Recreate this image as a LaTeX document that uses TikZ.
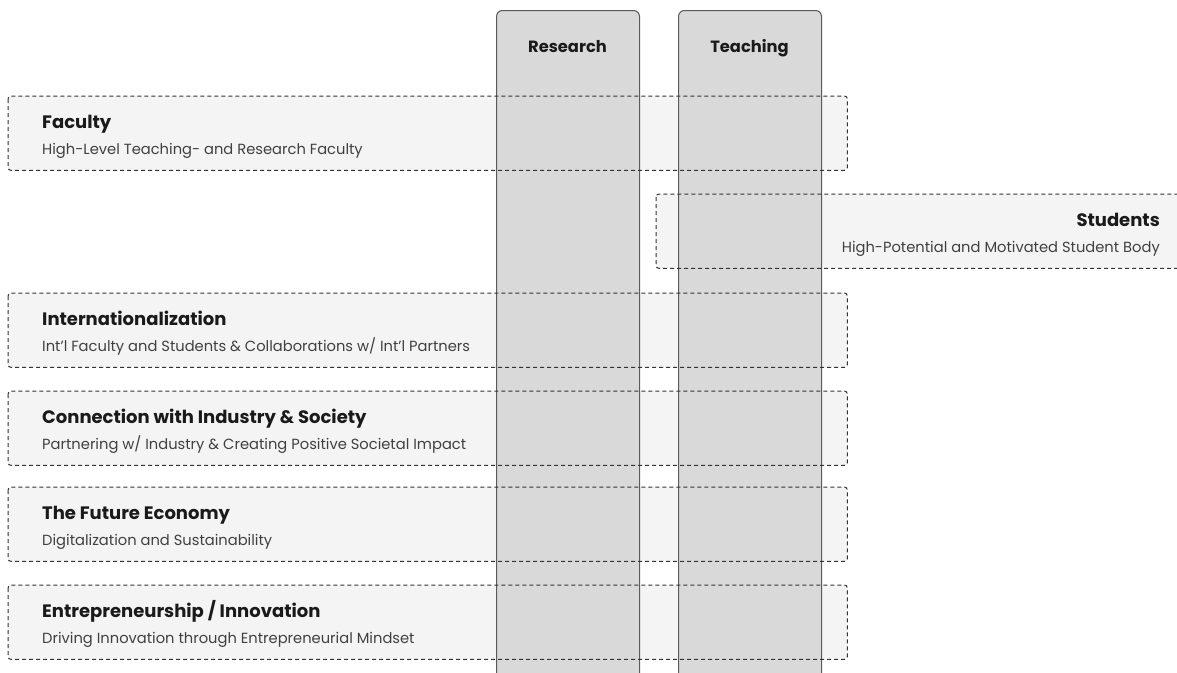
\documentclass[tikz,border=0pt]{standalone}
\usepackage{fontspec}
\setmainfont{Poppins}
\definecolor{boxfill}{HTML}{F4F4F4}
\definecolor{pillarfill}{HTML}{D9D9D9}
\definecolor{pillarline}{HTML}{5A5A5A}
\definecolor{dashline}{HTML}{333333}
\definecolor{titletext}{HTML}{1A1A1A}
\definecolor{subtext}{HTML}{404040}
\begin{document}
\begin{tikzpicture}[x=1pt,y=-1pt,
  rowbox/.style={fill=boxfill, rounded corners=3pt, anchor=north west, minimum height=74pt, inner sep=0pt},
  rowline/.style={draw=dashline, dash pattern=on 4pt off 3pt, line width=1pt, rounded corners=3pt},
  pillar/.style={fill=pillarfill, draw=pillarline, line width=1pt, rounded corners=6pt, anchor=north west, minimum width=143pt, minimum height=700pt, inner sep=0pt},
  pillarlabel/.style={font=\fontsize{16.3}{18}\selectfont\bfseries, text=titletext, anchor=base, inner sep=0pt},
  rowtitle/.style={font=\fontsize{18}{20}\selectfont\bfseries, text=titletext, inner sep=0pt},
  rowsub/.style={font=\fontsize{14.7}{16}\selectfont, text=subtext, inner sep=0pt}
]
\useasboundingbox (0,0) rectangle (1177,672);
\clip (0,0) rectangle (1177,672);
% row box fills
\node[rowbox, minimum width=839pt] (faculty) at (8,96) {};
\node[rowbox, minimum width=540pt] (students) at (656,194) {};
\node[rowbox, minimum width=839pt] (intl) at (8,293) {};
\node[rowbox, minimum width=839pt] (industry) at (8,391) {};
\node[rowbox, minimum width=839pt] (economy) at (8,487) {};
\node[rowbox, minimum width=839pt] (entre) at (8,585) {};
% pillars
\node[pillar] (research) at (496,10) {};
\node[pillar] (teaching) at (678,10) {};
\node[pillarlabel] (researchlbl) at (567.5,52) {Research};
\node[pillarlabel] (teachinglbl) at (749.5,52) {Teaching};
% dashed borders on top of pillars
\foreach \b in {faculty,students,intl,industry,economy,entre}{
  \draw[rowline] (\b.north west) rectangle (\b.south east);
}
% texts
\node[rowtitle, anchor=base west] (facultyt) at (42,128) {Faculty};
\node[rowsub, anchor=base west] (facultys) at (42,154) {High-Level Teaching- and Research Faculty};
\node[rowtitle, anchor=base east] (studentst) at (1160,226) {Students};
\node[rowsub, anchor=base east] (studentss) at (1160,252) {High-Potential and Motivated Student Body};
\node[rowtitle, anchor=base west] (intlt) at (42,325) {Internationalization};
\node[rowsub, anchor=base west] (intls) at (42,351) {Int'l Faculty and Students \& Collaborations w/ Int'l Partners};
\node[rowtitle, anchor=base west] (industryt) at (42,423) {Connection with Industry \& Society};
\node[rowsub, anchor=base west] (industrys) at (42,449) {Partnering w/ Industry \& Creating Positive Societal Impact};
\node[rowtitle, anchor=base west] (economyt) at (42,519) {The Future Economy};
\node[rowsub, anchor=base west] (economys) at (42,545) {Digitalization and Sustainability};
\node[rowtitle, anchor=base west] (entret) at (42,617) {Entrepreneurship / Innovation};
\node[rowsub, anchor=base west] (entres) at (42,643) {Driving Innovation through Entrepreneurial Mindset};
\end{tikzpicture}
\end{document}
